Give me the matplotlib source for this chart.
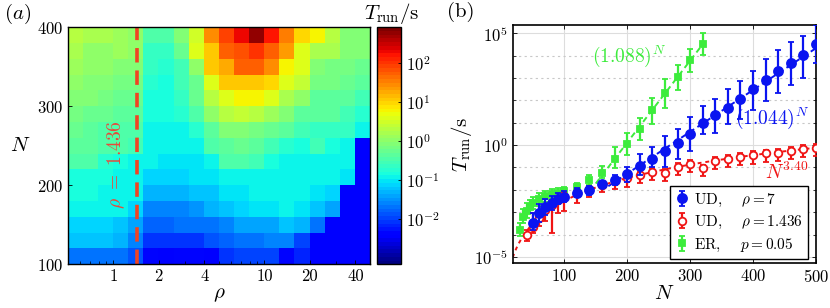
import numpy as np
import matplotlib
matplotlib.use('Agg')
import matplotlib.pyplot as plt
from matplotlib.colors import LogNorm
from matplotlib.ticker import NullFormatter, FixedLocator, LogLocator

plt.rcParams['font.family'] = 'serif'
plt.rcParams['font.serif'] = ['cmr10', 'DejaVu Serif']
plt.rcParams['mathtext.fontset'] = 'cm'
plt.rcParams['axes.formatter.use_mathtext'] = True
plt.rcParams['axes.unicode_minus'] = False

# ---- panel (a): log10(T_run) on the (rho, N) grid, rows from N=390 down to N=110
rho_edges = 0.5 * 10 ** (0.1 * np.arange(21))
n_edges = np.arange(100, 401, 20)
log_t_grid = [
    [0.3, 0.25, 0.2, 0.15, 0.05, -0.45, -0.5, -0.1, 0.5, 1.45, 1.95, 2.3, 2.75, 2.2, 1.5, 1.0, 0.8, 0.3, -0.05, -0.1],
    [0.25, 0.05, 0.05, 0.1, 0.05, -0.6, -0.6, -0.3, 0.55, 1.05, 1.7, 1.85, 2.0, 1.7, 1.35, 0.6, 0.2, 0.25, -0.1, -0.1],
    [0.1, 0.0, 0.0, -0.05, -0.05, -0.6, -0.7, -0.55, 0.0, 1.05, 1.2, 1.7, 1.7, 1.45, 0.8, 0.6, -0.1, -0.2, -0.2, -0.3],
    [0.0, -0.05, -0.1, -0.2, -0.2, -0.7, -0.8, -0.55, -0.3, 0.55, 1.05, 1.1, 1.05, 0.95, 0.6, 0.35, -0.2, -0.2, -0.3, -0.4],
    [-0.05, -0.1, -0.2, -0.25, -0.25, -0.8, -0.88, -0.6, -0.3, 0.3, 0.6, 0.8, 0.8, 0.6, 0.25, 0.0, -0.35, -0.35, -0.4, -0.55],
    [-0.2, -0.25, -0.3, -0.4, -0.4, -0.85, -0.88, -0.7, -0.5, 0.0, 0.3, 0.35, 0.3, 0.15, -0.1, -0.35, -0.4, -0.35, -0.55, -0.75],
    [-0.3, -0.4, -0.45, -0.45, -0.5, -0.9, -0.9, -0.9, -0.7, -0.35, -0.1, -0.1, -0.2, -0.3, -0.4, -0.55, -0.6, -0.6, -0.6, -0.9],
    [-0.35, -0.4, -0.45, -0.5, -0.55, -0.95, -0.95, -0.95, -0.9, -0.45, -0.35, -0.25, -0.4, -0.55, -0.7, -0.8, -0.55, -0.8, -0.9, -2.45],
    [-0.45, -0.5, -0.7, -0.8, -0.9, -0.95, -1.0, -1.0, -1.0, -0.95, -0.45, -0.45, -0.55, -0.8, -0.9, -0.9, -0.9, -0.9, -0.95, -2.45],
    [-0.88, -0.88, -0.88, -0.9, -0.95, -1.1, -1.1, -1.1, -1.0, -1.0, -0.95, -0.95, -0.9, -0.9, -0.9, -0.9, -0.9, -0.95, -1.05, -2.45],
    [-0.88, -0.88, -0.9, -0.95, -0.95, -1.35, -1.35, -1.35, -1.25, -1.2, -1.0, -1.0, -0.95, -0.9, -0.9, -0.95, -1.0, -1.15, -2.45, -2.45],
    [-0.9, -0.9, -0.95, -0.95, -1.1, -1.55, -1.55, -1.55, -1.5, -1.35, -1.25, -1.1, -1.0, -1.0, -0.95, -1.0, -1.2, -1.4, -2.45, -2.45],
    [-1.1, -1.1, -1.1, -1.2, -1.4, -1.8, -1.8, -1.7, -1.7, -1.65, -1.55, -1.4, -1.4, -1.4, -1.25, -1.3, -1.7, -2.45, -2.45, -2.45],
    [-1.25, -1.25, -1.25, -1.3, -1.55, -2.05, -2.05, -2.05, -2.05, -1.85, -1.8, -1.7, -1.7, -1.55, -1.55, -1.95, -2.45, -2.45, -2.45, -2.45],
    [-1.65, -1.65, -1.65, -1.7, -1.9, -2.3, -2.4, -2.3, -2.3, -2.4, -2.1, -2.0, -1.95, -1.95, -2.3, -2.2, -2.45, -2.45, -2.45, -2.45],
]
rho_c = 1.436
rho_ticks = [1, 2, 4, 10, 20, 40]

# ---- panel (b): scaling of run time, log10 values
n_ud7 = [50, 60, 70, 80, 90, 100, 120, 140, 160, 180, 200, 220, 240, 260, 280, 300,
         320, 340, 360, 380, 400, 420, 440, 460, 480, 500]
lt_ud7 = [-3.47, -3.05, -2.78, -2.6, -2.43, -2.31, -2.13, -2.0, -1.76, -1.56, -1.29, -0.94, -0.64,
          -0.27, 0.10, 0.49, 1.0, 1.34, 1.68, 2.05, 2.49, 2.9, 3.32, 3.68, 4.02, 4.54]
lt_ud7_hi = [-3.05, -2.63, -2.43, -2.28, -2.16, -2.04, -1.93, -1.83, -1.64, -1.34, -0.97, -0.4, -0.07,
             0.4, 0.74, 1.24, 1.74, 2.04, 2.53, 2.87, 3.32, 3.87, 4.27, 4.61, 4.87, 5.36]
lt_ud7_lo = [-3.79, -3.42, -3.13, -2.9, -2.63, -2.53, -2.34, -2.23, -1.89, -1.79, -1.64, -1.34, -1.0,
             -0.97, -0.6, -0.25, 0.49, 0.52, 0.94, 1.19, 1.56, 1.98, 2.34, 2.68, 3.02, 3.65]

n_ud1 = [40, 50, 60, 70, 80, 90, 100, 120, 140, 160, 180, 200, 220, 240, 260, 280, 300,
         320, 340, 360, 380, 400, 420, 440, 460, 480, 500]
lt_ud1 = [-4.02, -3.65, -3.27, -2.9, -2.68, -2.46, -2.31, -2.13, -1.98, -1.79, -1.61, -1.49, -1.34,
          -1.19, -1.24, -0.97, -0.85, -1.04, -0.7, -0.6, -0.52, -0.45, -0.37, -0.33, -0.25, -0.18, -0.12]
lt_ud1_hi = [-3.8, -3.05, -3.1, -2.7, -2.45, -2.43, -2.1, -1.98, -1.85, -1.63, -1.45, -1.32, -1.18,
             -1.02, -1.07, -0.8, -0.68, -0.87, -0.52, -0.43, -0.35, -0.28, -0.2, -0.16, -0.08, -0.01, 0.05]
lt_ud1_lo = [-4.3, -3.94, -3.6, -3.4, -3.94, -3.05, -2.95, -2.6, -2.3, -2.1, -1.95, -1.85, -1.7,
             -1.55, -1.6, -1.35, -1.22, -1.4, -1.08, -0.98, -0.9, -0.83, -0.75, -0.7, -0.62, -0.55, -0.5]

n_er = [30, 35, 40, 45, 50, 60, 70, 80, 90, 100, 120, 140, 160, 180, 200, 220, 240, 260, 280, 300, 320]
lt_er = [-3.79, -3.2, -2.93, -2.75, -2.57, -2.43, -2.28, -2.19, -2.13, -2.04, -1.86, -1.56, -1.24,
         -0.64, 0.04, 0.74, 1.59, 2.31, 3.05, 3.82, 4.54]
lt_er_hi = [-3.5, -2.85, -2.6, -2.45, -2.3, -2.15, -2.05, -1.98, -1.93, -1.85, -1.7, -1.35, -0.95,
            -0.1, 0.52, 1.23, 2.09, 2.95, 3.57, 4.28, 5.0]
lt_er_lo = [-4.05, -3.5, -3.25, -3.05, -2.85, -2.7, -2.55, -2.42, -2.35, -2.3, -2.04, -1.8, -1.49,
            -1.04, -0.45, 0.25, 0.93, 1.68, 2.46, 3.28, 4.03]

base_ud7 = 1.044
base_er = 1.088
exp_ud1 = 3.40

c_blue = '#0a14f0'
c_red = '#f01414'
c_green = '#3cec3c'

fig = plt.figure(figsize=(8.3, 3.08), dpi=100)

# ================= panel (a)
ax1 = fig.add_axes([0.0816, 0.1419, 0.3642, 0.7695])
t_grid = 10.0 ** np.array(log_t_grid)[::-1]
cmap = matplotlib.colormaps['jet'].resampled(64)
norm = LogNorm(vmin=10 ** -3.15, vmax=10 ** 2.9)
mesh = ax1.pcolormesh(rho_edges, n_edges, t_grid, cmap=cmap, norm=norm, shading='flat')
ax1.set_xscale('log')
ax1.set_xlim(rho_edges[0], rho_edges[-1])
ax1.set_ylim(n_edges[0], n_edges[-1])
ax1.axvline(rho_c, color='#f04422', lw=2.6, dashes=(4, 2.2))
ax1.text(1.04, 226, r'$\rho\ =\ 1.436$', rotation=90, color='#e8493a', fontsize=14,
         ha='center', va='center')
ax1.set_xticks(rho_ticks)
ax1.set_xticklabels([str(r) for r in rho_ticks])
ax1.xaxis.set_minor_locator(LogLocator(subs=np.arange(2, 10)))
ax1.xaxis.set_minor_formatter(NullFormatter())
ax1.set_yticks([100, 200, 300, 400])
ax1.tick_params(direction='in', labelsize=12, length=3, width=0.6)
ax1.tick_params(which='minor', direction='in', length=2, width=0.5)
ax1.set_xlabel(r'$\rho$', fontsize=15, labelpad=1)
ax1.set_ylabel(r'$N$', fontsize=15, rotation=0, labelpad=12, va='center')
for s in ax1.spines.values():
    s.set_linewidth(1.0)
fig.text(0.021, 0.955, r'$(a)$', fontsize=15, ha='center', va='center')

cax = fig.add_axes([0.4546, 0.1419, 0.0282, 0.7695])
cb = fig.colorbar(mesh, cax=cax)
cb.set_ticks([1e-2, 1e-1, 1e0, 1e1, 1e2])
cb.ax.minorticks_off()
cb.ax.tick_params(labelsize=12, length=2, width=0.6, direction='in')
cb.outline.set_linewidth(1.0)
fig.text(0.472, 0.955, r'$T_{\rm run}/{\rm s}$', fontsize=15, ha='center', va='center')

# ================= panel (b)
ax2 = fig.add_axes([0.6177, 0.1461, 0.3654, 0.7727])
ax2.set_yscale('log')
ax2.set_xlim(18, 500)
ax2.set_ylim(10 ** -5.27, 10 ** 5.37)


def draw_series(n, lt, hi, lo, color, marker, ms, open_marker, label, z):
    n = np.array(n)
    t = 10.0 ** np.array(lt)
    err = [t - 10.0 ** np.array(lo), 10.0 ** np.array(hi) - t]
    mfc = 'white' if open_marker else color
    return ax2.errorbar(n, t, yerr=err, fmt=marker, color=color, ms=ms, mfc=mfc, mec=color,
                        mew=1.3, elinewidth=1.6, capsize=2.2, capthick=1.4, label=label, zorder=z)


h_er = draw_series(n_er, lt_er, lt_er_hi, lt_er_lo, c_green, 's', 4.0, False,
                   r'ER,    $p = 0.05$', 3)
h_ud1 = draw_series(n_ud1, lt_ud1, lt_ud1_hi, lt_ud1_lo, c_red, 'o', 5.5, True,
                    r'UD,    $\rho = 1.436$', 4)
h_ud7 = draw_series(n_ud7, lt_ud7, lt_ud7_hi, lt_ud7_lo, c_blue, 'o', 6.5, False,
                    r'UD,    $\rho = 7$', 5)

# fitted curves: prefactor from the data points in the fitted range
n_ud7_a = np.array(n_ud7)
sel = n_ud7_a >= 200
c7 = np.mean(np.array(lt_ud7)[sel] - n_ud7_a[sel] * np.log10(base_ud7))
nn = np.linspace(170, 500, 100)
ax2.plot(nn, 10 ** (c7 + nn * np.log10(base_ud7)), color=c_blue, lw=1.4, dashes=(3, 2), zorder=2)

n_er_a = np.array(n_er)
sel = n_er_a >= 160
ce = np.mean(np.array(lt_er)[sel] - n_er_a[sel] * np.log10(base_er))
nn = np.linspace(150, 320, 100)
ax2.plot(nn, 10 ** (ce + nn * np.log10(base_er)), color=c_green, lw=1.4, dashes=(3, 2), zorder=2)

n_ud1_a = np.array(n_ud1)
c1 = np.mean(np.array(lt_ud1) - exp_ud1 * np.log10(n_ud1_a))
nn = np.linspace(18, 500, 200)
ax2.plot(nn, 10 ** (c1 + exp_ud1 * np.log10(nn)), color=c_red, lw=1.4, dashes=(2, 2), zorder=2)

ax2.text(0.385, 0.87, r'$(1.088)^N$', transform=ax2.transAxes, color=c_green, fontsize=14,
         ha='center', va='center', zorder=6)
ax2.text(0.855, 0.61, r'$(1.044)^N$', transform=ax2.transAxes, color=c_blue, fontsize=14,
         ha='center', va='center', zorder=6)
ax2.text(0.905, 0.38, r'$N^{3.40}$', transform=ax2.transAxes, color=c_red, fontsize=14,
         ha='center', va='center', zorder=6)

ax2.set_yticks([1e-5, 1e0, 1e5])
ax2.yaxis.set_minor_locator(FixedLocator(10.0 ** np.arange(-5, 6)))
ax2.yaxis.set_minor_formatter(NullFormatter())
ax2.set_xticks([100, 200, 300, 400, 500])
ax2.grid(True, which='major', color='#dddddd', lw=0.8, ls='-', zorder=0)
ax2.grid(True, which='minor', axis='y', color='#c8c8c8', lw=0.8, ls=(0, (2, 3)), zorder=0)
ax2.set_axisbelow(True)
ax2.tick_params(direction='in', labelsize=12, length=3, width=0.6, top=True, right=True)
ax2.tick_params(which='minor', direction='in', length=2, width=0.5, right=True)
ax2.set_xlabel(r'$N$', fontsize=15, labelpad=0)
ax2.set_ylabel(r'$T_{\rm run}/{\rm s}$', fontsize=15, labelpad=0)
for s in ax2.spines.values():
    s.set_linewidth(1.2)

leg = ax2.legend(handles=[h_ud7, h_ud1, h_er], loc='lower right', bbox_to_anchor=(0.974, 0.017),
                 borderaxespad=0, fontsize=11, handlelength=0.8, handletextpad=0.4,
                 labelspacing=0.35, borderpad=0.35, fancybox=False, framealpha=1)
leg.get_frame().set_edgecolor('black')
leg.get_frame().set_linewidth(1.0)
fig.text(0.555, 0.962, '(b)', fontsize=15, ha='center', va='center')

fig.savefig('out.png', dpi=100)
